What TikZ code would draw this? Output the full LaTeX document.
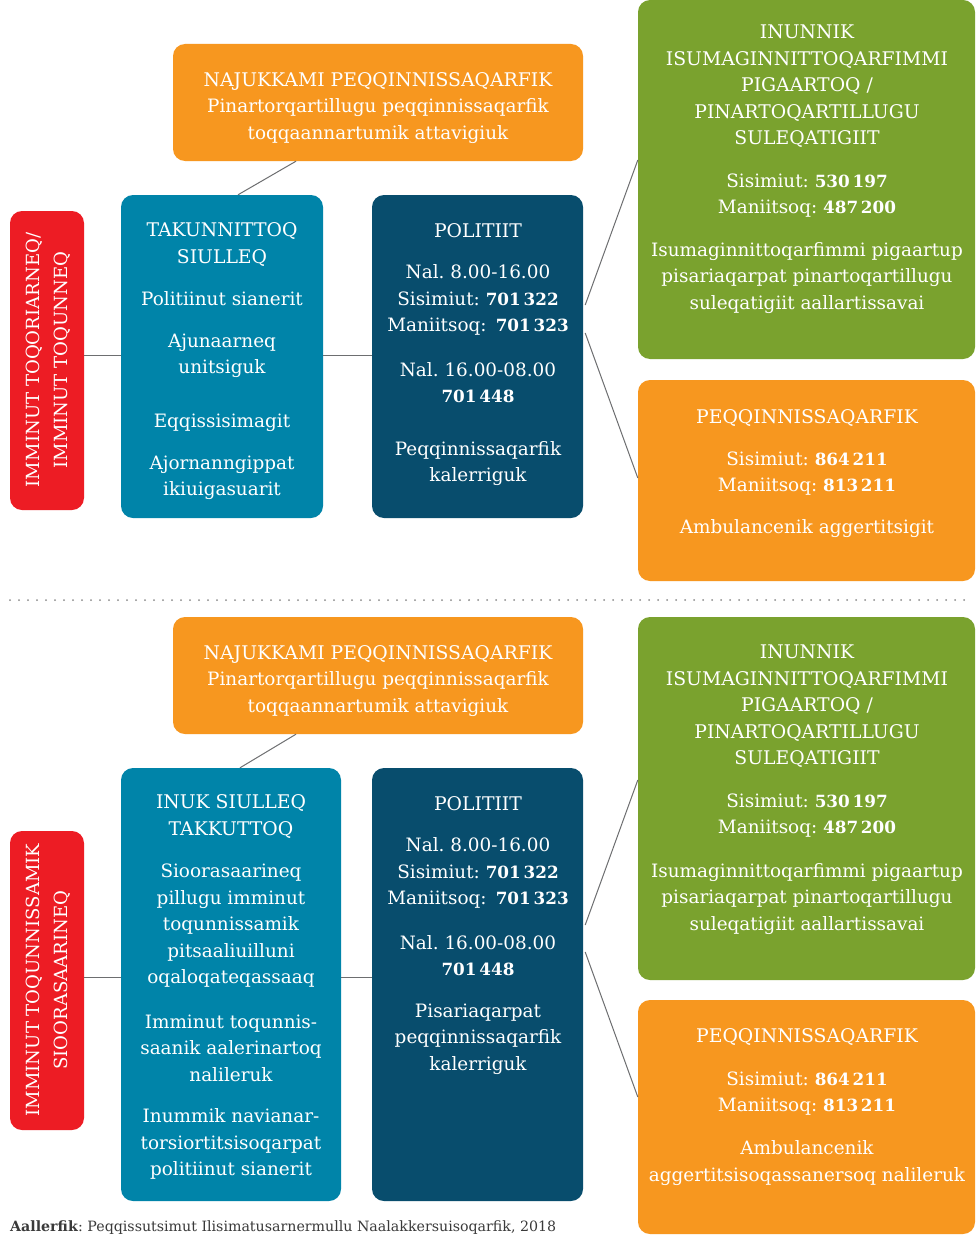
\documentclass[tikz,border=0pt]{standalone}
\usepackage{fontspec}
\setmainfont{DejaVu Serif}
\usetikzlibrary{calc}
\frenchspacing
\definecolor{cOrange}{HTML}{F7971F}
\definecolor{cGreen}{HTML}{7AA22E}
\definecolor{cTeal}{HTML}{0084A9}
\definecolor{cDark}{HTML}{084D6D}
\definecolor{cRed}{HTML}{ED1C24}
\definecolor{cLine}{HTML}{6D6E70}
\definecolor{cFoot}{HTML}{3A3A3A}
\definecolor{cDot}{HTML}{8A8A8A}
\newcommand{\hdf}{\fontsize{18.8}{26.5}\selectfont}
\newcommand{\nb}[1]{{\bfseries\fontsize{16.8}{26.5}\selectfont #1}}
\begin{document}
\begin{tikzpicture}[x=1pt,y=-1pt,
  box/.style={rectangle, rounded corners=12pt, inner sep=0pt, draw=none},
  txt/.style={text=white, align=center, inner sep=0pt, font=\fontsize{18.4}{26.5}\selectfont},
  hd/.style={txt, font=\hdf},
  vt/.style={text=white, align=center, inner sep=0pt, rotate=90, font=\fontsize{18.1}{28}\selectfont},
  conn/.style={draw=cLine, line width=1pt}]
\useasboundingbox (0,0) rectangle (975,1236);
\fill[white] (0,0) rectangle (975,1236);

% ---------- top section ----------
\node[box, fill=cOrange, minimum width=410pt, minimum height=117pt] (o1) at (378,102.5) {};
\node[box, fill=cRed, minimum width=74pt, minimum height=299pt] (r1) at (47,360.5) {};
\node[box, fill=cTeal, minimum width=202pt, minimum height=323pt] (t1) at (222,356.5) {};
\node[box, fill=cDark, minimum width=211pt, minimum height=323pt] (d1) at (477.5,356.5) {};
\node[box, fill=cGreen, minimum width=337pt, minimum height=359pt] (g1) at (806.5,179.5) {};
\node[box, fill=cOrange, minimum width=337pt, minimum height=201pt] (p1) at (806.5,480.5) {};

\node[txt] (o1t) at (378,108) {{\hdf NAJUKKAMI PEQQINNISSAQARFIK}\\Pinartorqartillugu peqqinnissaqarfik\\toqqaannartumik attavigiuk};
\node[vt] (r1t) at (48,360) {IMMINUT TOQORIARNEQ/\\IMMINUT TOQUNNEQ};
\node[hd] (t1h) at (222,244.5) {TAKUNNITTOQ\\SIULLEQ};
\node[txt] (t1a) at (222,299) {Politiinut sianerit};
\node[txt] (t1b) at (222,356) {Ajunaarneq\\unitsiguk};
\node[txt] (t1c) at (222,423) {Eqqissisimagit};
\node[txt] (t1d) at (222,478) {Ajornanngippat\\ikiuigasuarit};
\node[hd] (d1h) at (478,231) {POLITIIT};
\node[txt] (d1a) at (478,300) {Nal. 8.00-16.00\\Sisimiut: \nb{701\,322}\\Maniitsoq:\enspace\nb{701\,323}};
\node[txt] (d1b) at (478,382.5) {Nal. 16.00-08.00\\\nb{701\,448}};
\node[txt] (d1c) at (478,463.5) {Peqqinnissaqarfik\\kalerriguk};
\node[hd] (g1h) at (807,86.5) {INUNNIK\\ISUMAGINNITTOQARFIMMI\\PIGAARTOQ /\\PINARTOQARTILLUGU\\SULEQATIGIIT};
\node[txt] (g1a) at (807,195.5) {Sisimiut: \nb{530\,197}\\Maniitsoq: \nb{487\,200}};
\node[txt] (g1b) at (807,278) {Isumaginnittoqarfimmi pigaartup\\pisariaqarpat pinartoqartillugu\\suleqatigiit aallartissavai};
\node[hd] (p1h) at (807,418) {PEQQINNISSAQARFIK};
\node[txt] (p1a) at (807,473.5) {Sisimiut: \nb{864\,211}\\Maniitsoq: \nb{813\,211}};
\node[txt] (p1b) at (807,529) {Ambulancenik aggertitsigit};

\draw[conn] ($(o1.south)+(-82,0)$) -- ($(t1.north)+(16,0)$);
\draw[conn] ($(r1.east)+(0,-5.5)$) -- ($(t1.west)+(0,-1.5)$);
\draw[conn] ($(t1.east)+(0,-1.5)$) -- ($(d1.west)+(0,-1.5)$);
\draw[conn] ($(d1.east)+(2,-51.5)$) -- ($(g1.west)+(0,-19.5)$);
\draw[conn] ($(d1.east)+(2,-23.5)$) -- ($(p1.west)+(0,-2.5)$);

% ---------- separator ----------
\coordinate (dl) at (10,600);
\coordinate (dr) at (970,600);
\draw[cDot, line width=2pt, line cap=round, dash pattern=on 0pt off 9pt] (dl) -- (dr);

% ---------- bottom section ----------
\node[box, fill=cOrange, minimum width=410pt, minimum height=117pt] (o2) at (378,675.5) {};
\node[box, fill=cRed, minimum width=74pt, minimum height=299pt] (r2) at (47,980.5) {};
\node[box, fill=cTeal, minimum width=220pt, minimum height=433pt] (t2) at (231,984.5) {};
\node[box, fill=cDark, minimum width=211pt, minimum height=433pt] (d2) at (477.5,984.5) {};
\node[box, fill=cGreen, minimum width=337pt, minimum height=363pt] (g2) at (806.5,798.5) {};
\node[box, fill=cOrange, minimum width=337pt, minimum height=234pt] (p2) at (806.5,1117) {};

\node[txt] (o2t) at (378,681) {{\hdf NAJUKKAMI PEQQINNISSAQARFIK}\\Pinartorqartillugu peqqinnissaqarfik\\toqqaannartumik attavigiuk};
\node[vt] (r2t) at (48,980) {IMMINUT TOQUNNISSAMIK\\SIOORASAARINEQ};
\node[hd] (t2h) at (231,816.5) {INUK SIULLEQ\\TAKKUTTOQ};
\node[txt] (t2a) at (231,926) {Sioorasaarineq\\pillugu imminut\\toqunnissamik\\pitsaaliuilluni\\oqaloqateqassaaq};
\node[txt] (t2b) at (231,1048) {Imminut toqunnis-\\saanik aalerinartoq\\nalileruk};
\node[txt] (t2c) at (231,1144) {Inummik navianar-\\torsiortitsisoqarpat\\politiinut sianerit};
\node[hd] (d2h) at (478,804) {POLITIIT};
\node[txt] (d2a) at (478,873) {Nal. 8.00-16.00\\Sisimiut: \nb{701\,322}\\Maniitsoq:\enspace\nb{701\,323}};
\node[txt] (d2b) at (478,955.5) {Nal. 16.00-08.00\\\nb{701\,448}};
\node[txt] (d2c) at (478,1039) {Pisariaqarpat\\peqqinnissaqarfik\\kalerriguk};
\node[hd] (g2h) at (807,706.5) {INUNNIK\\ISUMAGINNITTOQARFIMMI\\PIGAARTOQ /\\PINARTOQARTILLUGU\\SULEQATIGIIT};
\node[txt] (g2a) at (807,815.5) {Sisimiut: \nb{530\,197}\\Maniitsoq: \nb{487\,200}};
\node[txt] (g2b) at (807,899) {Isumaginnittoqarfimmi pigaartup\\pisariaqarpat pinartoqartillugu\\suleqatigiit aallartissavai};
\node[hd] (p2h) at (807,1037) {PEQQINNISSAQARFIK};
\node[txt] (p2a) at (807,1093.5) {Sisimiut: \nb{864\,211}\\Maniitsoq: \nb{813\,211}};
\node[txt] (p2b) at (807,1163) {Ambulancenik\\aggertitsisoqassanersoq nalileruk};

\draw[conn] ($(o2.south)+(-82,0)$) -- ($(t2.north)+(9,0)$);
\draw[conn] ($(r2.east)+(0,-3.5)$) -- ($(t2.west)+(0,-7.5)$);
\draw[conn] ($(t2.east)+(0,-7.5)$) -- ($(d2.west)+(0,-7.5)$);
\draw[conn] ($(d2.east)+(2,-59.5)$) -- ($(g2.west)+(0,-18.5)$);
\draw[conn] ($(d2.east)+(2,-32.5)$) -- ($(p2.west)+(0,-20)$);

% ---------- source ----------
\node[anchor=base west, inner sep=0pt, text=cFoot, font=\fontsize{14.2}{18}\selectfont] (src) at (10,1231)
  {\textbf{Aallerfik}: Peqqissutsimut Ilisimatusarnermullu Naalakkersuisoqarfik, 2018};
\end{tikzpicture}
\end{document}
